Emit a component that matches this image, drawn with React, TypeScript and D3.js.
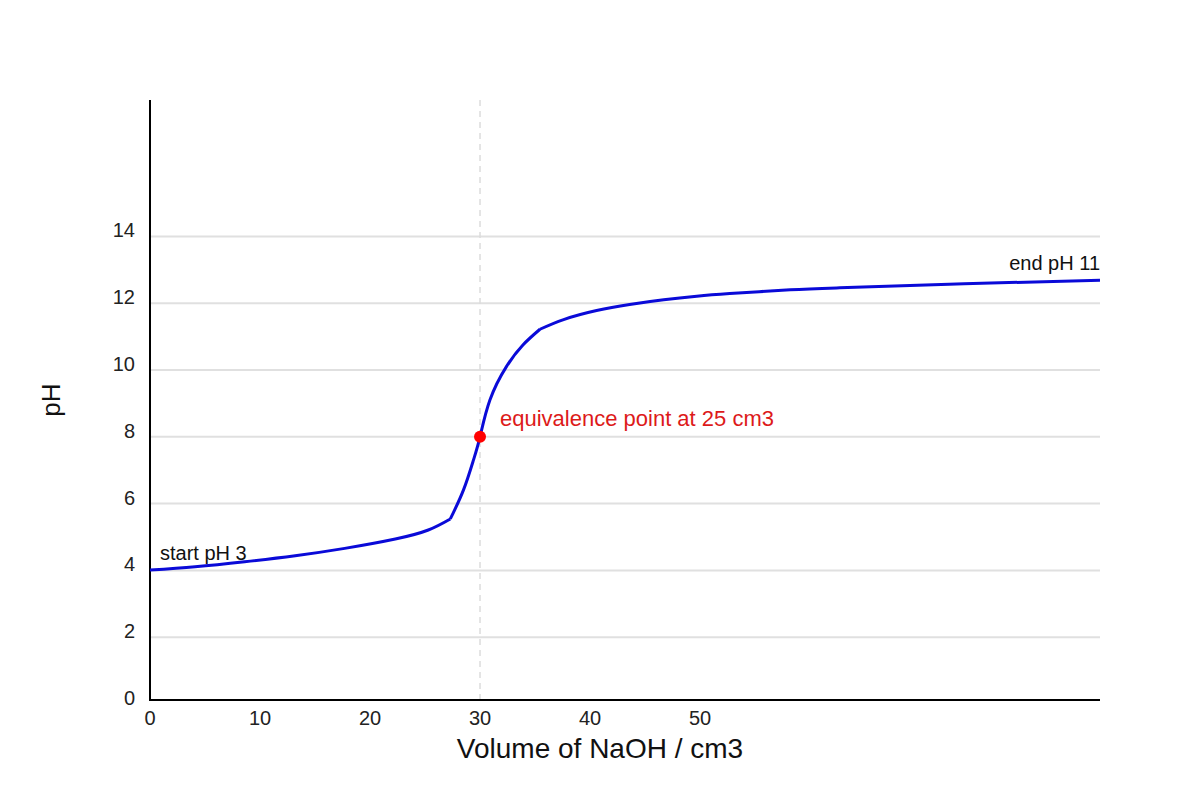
import { useEffect, useRef } from 'react'
import * as d3 from 'd3'

// titration curve (volume in cm3, pH)
const volumes = [0, 4.1, 8.6, 13.2, 17.7, 22.3, 25.3, 27.3, 28.5, 29.4, 30, 30.9, 32.4, 33.9, 35.45, 37.6, 40.6, 43.6, 46.7, 49.7, 52.7, 58.2, 62.7, 74, 86.36]
const phValues = [4.01, 4.11, 4.26, 4.44, 4.66, 4.94, 5.21, 5.54, 6.41, 7.3, 8.0, 9.1, 10.1, 10.75, 11.22, 11.51, 11.78, 11.96, 12.1, 12.21, 12.29, 12.4, 12.46, 12.58, 12.69]
// volumes where the curve has a visible corner
const corners = [27.3, 35.45]

const xTicks = [0, 10, 20, 30, 40, 50]
const yTicks = [0, 2, 4, 6, 8, 10, 12, 14]

const equivalence = { volume: 30, ph: 8, label: 'equivalence point at 25 cm3' }
const startLabel = 'start pH 3'
const endLabel = 'end pH 11'

export default function App() {
  const svgRef = useRef<SVGSVGElement>(null)

  useEffect(() => {
    document.body.style.margin = '0'
    if (!svgRef.current) return
    const svg = d3.select(svgRef.current)
    svg.selectAll('*').remove()

    const width = 1200
    const height = 800
    const left = 150, right = 1100, top = 100, bottom = 700
    const font = '"Liberation Sans", Arial, sans-serif'

    const x = d3.scaleLinear().domain([0, 86.36]).range([left, right])
    const y = d3.scaleLinear().domain([0, 18]).range([704, 102.8])

    svg.attr('width', width).attr('height', height).attr('viewBox', `0 0 ${width} ${height}`)
      .style('font-family', font)

    // horizontal grid
    svg.append('g').selectAll('line')
      .data(yTicks.filter(d => d > 0))
      .join('line')
      .attr('x1', left).attr('x2', right)
      .attr('y1', d => y(d)).attr('y2', d => y(d))
      .attr('stroke', '#e0e0e0').attr('stroke-width', 2)

    // equivalence guide
    svg.append('line')
      .attr('x1', x(equivalence.volume)).attr('x2', x(equivalence.volume))
      .attr('y1', top).attr('y2', bottom)
      .attr('stroke', '#dcdcdc').attr('stroke-width', 1.5).attr('stroke-dasharray', '6,5')

    // axes lines
    svg.append('line').attr('x1', left).attr('x2', left).attr('y1', top).attr('y2', bottom + 1)
      .attr('stroke', '#000').attr('stroke-width', 2)
    svg.append('line').attr('x1', left - 1).attr('x2', right).attr('y1', bottom).attr('y2', bottom)
      .attr('stroke', '#000').attr('stroke-width', 2)

    // tick labels
    svg.append('g').selectAll('text')
      .data(yTicks)
      .join('text')
      .attr('x', 135).attr('y', d => y(d) + 1)
      .attr('text-anchor', 'end')
      .style('font-size', '20px').style('fill', '#222')
      .text(d => d)

    svg.append('g').selectAll('text')
      .data(xTicks)
      .join('text')
      .attr('x', d => x(d)).attr('y', 725)
      .attr('text-anchor', 'middle')
      .style('font-size', '20px').style('fill', '#222')
      .text(d => d)

    // axis titles
    svg.append('text')
      .attr('x', 600).attr('y', 758)
      .attr('text-anchor', 'middle')
      .style('font-size', '28px').style('fill', '#111')
      .text('Volume of NaOH / cm3')

    svg.append('text')
      .attr('transform', 'rotate(-90)')
      .attr('x', -400).attr('y', 60)
      .attr('text-anchor', 'middle')
      .style('font-size', '26px').style('fill', '#111')
      .text('pH')

    // curve, smooth between the corners
    const pts = volumes.map((v, i) => [v, phValues[i]] as [number, number])
    const bounds = [0, ...corners, Infinity]
    const line = d3.line<[number, number]>()
      .x(d => x(d[0])).y(d => y(d[1]))
      .curve(d3.curveNatural)
    const pieces = d3.range(bounds.length - 1).map(i =>
      pts.filter(p => p[0] >= bounds[i] && p[0] <= bounds[i + 1]))
    svg.append('path')
      .attr('d', pieces.map(p => line(p)).join(''))
      .attr('fill', 'none').attr('stroke', '#0a0ad8').attr('stroke-width', 3)
      .attr('stroke-linejoin', 'round')

    // equivalence point
    svg.append('circle')
      .attr('cx', x(equivalence.volume)).attr('cy', y(equivalence.ph))
      .attr('r', 6).attr('fill', '#ff0000')

    svg.append('text')
      .attr('x', x(equivalence.volume) + 20).attr('y', y(equivalence.ph) - 11)
      .style('font-size', '22px').style('fill', '#dd1a1a')
      .text(equivalence.label)

    svg.append('text')
      .attr('x', left + 10).attr('y', 560)
      .style('font-size', '20px').style('fill', '#111')
      .text(startLabel)

    svg.append('text')
      .attr('x', right).attr('y', 270)
      .attr('text-anchor', 'end')
      .style('font-size', '20px').style('fill', '#111')
      .text(endLabel)
  }, [])

  return <svg ref={svgRef} style={{ display: 'block' }} />
}
